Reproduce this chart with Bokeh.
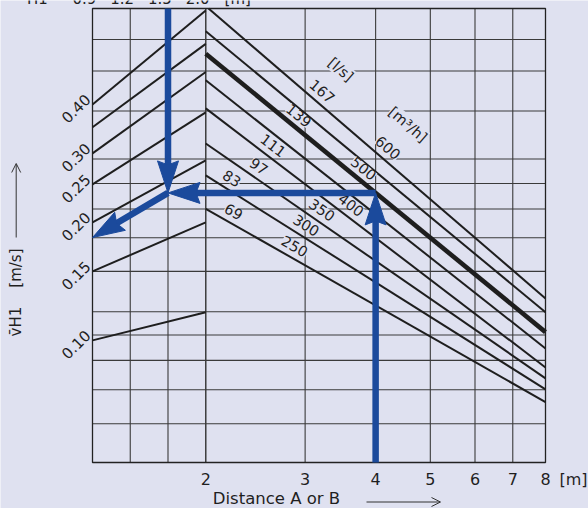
import math
from bokeh.plotting import figure
from bokeh.models import ColumnDataSource, LabelSet, Arrow, OpenHead
from bokeh.core.properties import value
from bokeh.embed import file_html
from bokeh.resources import INLINE

# ---------------- data ----------------
DIST_TICKS = [2, 3, 4, 5, 6, 7, 8]                 # distance A or B [m]
V_TICKS = [0.10, 0.15, 0.20, 0.25, 0.30, 0.40]     # v_H1 [m/s]
H1_LABELS = ["0.9", "1.2", "1.5", "2.0"]           # H1 [m] (top scale)
V_GRID = [0.586, 0.487, 0.385, 0.2904, 0.2515, 0.2165, 0.1828, 0.150,
          0.1183, 0.1032, 0.0889, 0.0748, 0.0613]  # horizontal grid of nomogram

FLOW_LS = [167, 153, 139, 125, 111, 97, 83, 69]          # [l/s]
FLOW_M3H = [600, 550, 500, 450, 400, 350, 300, 250]      # [m3/h]
V_AT_2M = [0.713, 0.615, 0.539, 0.461, 0.391, 0.318, 0.2636, 0.2167]
V_AT_8M = [0.128, 0.118, 0.105, 0.0954, 0.0853, 0.080, 0.075, 0.0696]
THICK_FLOW = 139
LS_LABEL_AT = [3.12, None, 2.84, None, 2.56, 2.42, 2.17, 2.19]    # distance where label sits
M3H_LABEL_AT = [4.08, None, 3.70, None, 3.52, 3.13, 2.94, 2.81]

H1_V_LEFT = [0.40, 0.35, 0.30, 0.25, 0.20, 0.15, 0.10]     # transfer lines, left edge
H1_V_RIGHT = [0.695, 0.571, 0.484, 0.382, 0.288, 0.200, 0.118]  # transfer lines at H1 = 2.0

EX_DIST = 4          # example: distance 4 m
EX_FLOW = 139        # example flow line
EX_H1 = "1.5"        # example H1
EX_RESULT = 0.183    # resulting velocity read at left edge

# ---------------- layout / style ----------------
W, H = 588, 508
FL, FR, FT, FB = 92, 545, 8, 462          # nomogram box on the canvas
X_MIN, X_MAX = 2 / 4 ** (1 / 3), 8.0
Y_MIN, Y_MAX = 0.0488, 0.703
BG = "#DFE1F0"
INK = "#1E1E1E"
TXT = "#1F1F1F"
GRID_C = "#3A3A3A"
BLUE = "#1B4A9C"
FONT = value("DejaVu Sans")

LX = math.log(X_MAX / X_MIN)
LY = math.log(Y_MAX / Y_MIN)
PXL = (FR - FL) / LX   # px per ln-unit along x
PYL = (FB - FT) / LY   # px per ln-unit along y


def to_px(x, v):
    return (FL + math.log(x / X_MIN) * PXL, FB - math.log(v / Y_MIN) * PYL)


def to_data(px, py):
    return (X_MIN * math.exp((px - FL) / PXL), Y_MIN * math.exp((FB - py) / PYL))


def v_on(i, x):
    a, b = math.log(V_AT_2M[i]), math.log(V_AT_8M[i])
    return math.exp(a + (b - a) * math.log(x / 2) / math.log(4))


def angle_of(i):
    k = (math.log(V_AT_8M[i]) - math.log(V_AT_2M[i])) / math.log(4)
    return math.atan(k * PYL / PXL)


def clip_to_box(x0, v0, x1, v1):
    """Clip a log-log straight segment to the nomogram box."""
    u0, w0, u1, w1 = math.log(x0), math.log(v0), math.log(x1), math.log(v1)
    du, dw = u1 - u0, w1 - w0
    t0, t1 = 0.0, 1.0
    for pp, q in ((-du, u0 - math.log(X_MIN)), (du, math.log(X_MAX) - u0),
                  (-dw, w0 - math.log(Y_MIN)), (dw, math.log(Y_MAX) - w0)):
        if pp == 0:
            continue
        r = q / pp
        if pp < 0:
            t0 = max(t0, r)
        else:
            t1 = min(t1, r)
    return ([math.exp(u0 + t0 * du), math.exp(u0 + t1 * du)],
            [math.exp(w0 + t0 * dw), math.exp(w0 + t1 * dw)])


h1_x = [X_MIN * (2 / X_MIN) ** (j / 3) for j in range(len(H1_LABELS))]

c_left, c_bottom = to_data(0, H)
c_right, c_top = to_data(W, 0)
p = figure(width=W, height=H, x_axis_type="log", y_axis_type="log",
           x_axis_location=None, y_axis_location=None,
           x_range=(c_left, c_right), y_range=(c_bottom, c_top),
           output_backend="svg", toolbar_location=None, title_location=None,
           min_border=0)
p.background_fill_color = BG
p.border_fill_color = BG
p.outline_line_color = None
p.grid.visible = False

# ---- grid of the nomogram ----
vx = DIST_TICKS[:-1] + h1_x[1:]
p.segment(x0=vx, y0=[Y_MIN] * len(vx), x1=vx, y1=[Y_MAX] * len(vx),
          line_color=GRID_C, line_width=1.1)
p.segment(x0=[X_MIN] * len(V_GRID), y0=V_GRID, x1=[X_MAX] * len(V_GRID), y1=V_GRID,
          line_color=GRID_C, line_width=1.1)
p.quad(left=[X_MIN], right=[X_MAX], bottom=[Y_MIN], top=[Y_MAX],
       fill_color=None, line_color="#222222", line_width=1.3)

# ---- flow lines (distance 2..8 m) ----
fx, fy = zip(*[clip_to_box(2, a, 8, b) for a, b in zip(V_AT_2M, V_AT_8M)])
p.multi_line(xs=list(fx), ys=list(fy), line_color=INK,
             line_width=[4.6 if f == THICK_FLOW else 2.0 for f in FLOW_LS])

# ---- H1 transfer lines ----
p.multi_line(xs=[[X_MIN, 2] for _ in H1_V_LEFT],
             ys=[[a, b] for a, b in zip(H1_V_LEFT, H1_V_RIGHT)],
             line_color=INK, line_width=2.0)

# ---- line labels ----
lab = dict(x=[], y=[], text=[], angle=[], xo=[], yo=[])


def add_label(i, xpos, text, d):
    ang = angle_of(i)
    lab["x"].append(xpos)
    lab["y"].append(v_on(i, xpos))
    lab["text"].append(text)
    lab["angle"].append(ang)
    lab["xo"].append(-d * math.sin(ang))
    lab["yo"].append(d * math.cos(ang))


for i in range(len(FLOW_LS)):
    if LS_LABEL_AT[i] is not None:
        add_label(i, LS_LABEL_AT[i], str(FLOW_LS[i]), 11)
    if M3H_LABEL_AT[i] is not None:
        add_label(i, M3H_LABEL_AT[i], str(FLOW_M3H[i]), 11)
add_label(0, LS_LABEL_AT[0], "[l/s]", 40)
add_label(0, M3H_LABEL_AT[0], "[m³/h]", 42)

p.add_layout(LabelSet(source=ColumnDataSource(lab), x="x", y="y", text="text",
                      angle="angle", x_offset="xo", y_offset="yo",
                      text_align="center", text_baseline="middle",
                      text_font=FONT, text_font_size="14.5px", text_color=TXT,
                      background_fill_color=BG))

# ---- example path (blue arrows) ----
i_ex = FLOW_LS.index(EX_FLOW)
v_ex = v_on(i_ex, EX_DIST)
x_h = h1_x[H1_LABELS.index(EX_H1)]
paths = [((EX_DIST, Y_MIN), (EX_DIST, v_ex)),
         ((EX_DIST, v_ex), (x_h, v_ex)),
         ((x_h, Y_MAX), (x_h, v_ex)),
         ((x_h, v_ex), (X_MIN, EX_RESULT))]
HL, HW, HN = 32, 10.5, 4
sh_x, sh_y, hd_x, hd_y = [], [], [], []
for (x0, y0), (x1, y1) in paths:
    sx0, sy0 = to_px(x0, y0)
    sx1, sy1 = to_px(x1, y1)
    L = math.hypot(sx1 - sx0, sy1 - sy0)
    ux, uy = (sx1 - sx0) / L, (sy1 - sy0) / L
    nx, ny = -uy, ux
    pts = [(sx1, sy1),
           (sx1 - HL * ux + HW * nx, sy1 - HL * uy + HW * ny),
           (sx1 - (HL - HN) * ux, sy1 - (HL - HN) * uy),
           (sx1 - HL * ux - HW * nx, sy1 - HL * uy - HW * ny)]
    dpts = [to_data(a, b) for a, b in pts]
    hd_x.append([q[0] for q in dpts])
    hd_y.append([q[1] for q in dpts])
    s_end = to_data(sx1 - (HL - HN - 2) * ux, sy1 - (HL - HN - 2) * uy)
    sh_x.append([x0, s_end[0]])
    sh_y.append([y0, s_end[1]])

p.multi_line(xs=sh_x, ys=sh_y, line_color=BLUE, line_width=6.5, line_cap="butt",
             level="overlay")
p.patches(xs=hd_x, ys=hd_y, fill_color=BLUE, line_color=BLUE, line_width=1,
          level="overlay")

# ---- tick labels, scales and titles ----
txt = dict(x=[], y=[], text=[], angle=[], xo=[], yo=[], align=[], base=[], size=[])


def add_text(x, y, text, xo=0.0, yo=0.0, angle=0.0, align="center", base="middle",
             size="15px"):
    for k, v in zip(("x", "y", "text", "xo", "yo", "angle", "align", "base", "size"),
                    (x, y, text, xo, yo, angle, align, base, size)):
        txt[k].append(v)


NB = "\u00a0"
# distance ticks
for d in DIST_TICKS:
    add_text(d, Y_MIN, str(d), yo=-16.5, size="16px")
add_text(X_MAX, Y_MIN, "[m]", xo=28, yo=-16.5, size="16px")
# velocity ticks (rotated)
for v in V_TICKS:
    add_text(X_MIN, v, f"{v:.2f}", xo=-5, yo=8, angle=math.pi / 4, align="right")
# top H1 scale (cut by the page edge as in the reference)
for xx, t in zip(h1_x, H1_LABELS):
    add_text(xx, Y_MAX, t, xo=-8, yo=5, base="alphabetic")
add_text(X_MIN, Y_MAX, "H1", xo=-55, yo=5, base="alphabetic")
add_text(2, Y_MAX, "[m]", xo=32, yo=5, base="alphabetic")
# axis titles
tx, ty = to_data(276, 498)
add_text(tx, ty, "Distance A or B", size="16.5px")
yx, yy = to_data(15.5, 292)
add_text(yx, yy, "v\u0304H1" + NB * 4 + "[m/s]", angle=math.pi / 2)

p.add_layout(LabelSet(source=ColumnDataSource(txt), x="x", y="y", text="text",
                      angle="angle", x_offset="xo", y_offset="yo",
                      text_align="align", text_baseline="base",
                      text_font=FONT, text_font_size="size", text_color=TXT))

# pointers next to the axis titles
for (a0, a1) in (((366, 501.5), (440, 501.5)), ((15.7, 237), (15.7, 163))):
    (xs0, ys0), (xs1, ys1) = to_data(*a0), to_data(*a1)
    p.add_layout(Arrow(x_start=xs0, y_start=ys0, x_end=xs1, y_end=ys1,
                       line_color="#333333", line_width=1,
                       end=OpenHead(size=9, line_width=1, line_color="#333333")))

open("out.html", "w").write(file_html(p, INLINE))
